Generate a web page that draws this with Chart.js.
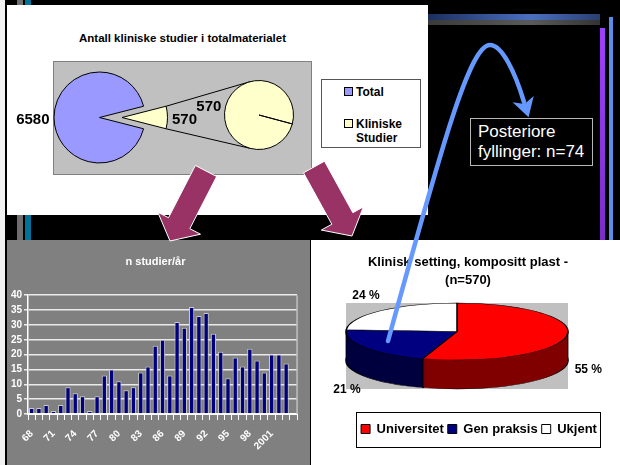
<!DOCTYPE html>
<html>
<head>
<meta charset="utf-8">
<script src="https://cdn.jsdelivr.net/npm/chart.js@4.4.1/dist/chart.umd.min.js"></script>
<style>
  body { margin: 0; width: 620px; height: 465px; background: #000; position: relative; overflow: hidden;
         font-family: "Liberation Sans", Arial, sans-serif; }
  .abs { position: absolute; }
  #p1 { left: 7px; top: 5px; width: 421px; height: 210px; background: #fff; }
  #p2 { left: 7px; top: 240px; width: 303px; height: 225px; background: #808080; }
  #p3 { left: 311px; top: 240px; width: 309px; height: 225px; background: #fff; }
  #t1 { left: 53px; top: 32px; width: 259px; text-align: center; font-weight: bold; font-size: 11.5px; color: #000; }
  #plot1 { left: 53px; top: 61px; width: 259px; height: 114px; background: #C0C0C0; border: 1px solid #808080; box-sizing: border-box; }
  #leg1 { left: 321px; top: 79px; width: 100px; height: 69px; background: #fff; border: 1px solid #555; box-sizing: border-box;
          font-weight: bold; font-size: 12px; line-height: 14px; }
  #leg1 .item { position: absolute; left: 34px; width: 62px; }
  #leg1 .sq { position: absolute; left: -12px; top: 2px; width: 9px; height: 9px; border: 1px solid #000; box-sizing: border-box; }
  #note { left: 470px; top: 118px; width: 123px; height: 48px; border: 1px solid #b8b8b8; box-sizing: border-box;
          color: #fff; font-size: 17px; line-height: 20px; padding: 3px 0 0 7px; white-space: nowrap; }
  canvas { position: absolute; }
</style>
</head>
<body>
<div class="abs" style="left:0;top:0;width:5px;height:465px;background:#f2f2f2"></div>
<div class="abs" style="left:17px;top:0;width:6px;height:465px;background:#6e6e6e"></div>
<div class="abs" style="left:25px;top:0;width:6px;height:465px;background:#00729a"></div>
<div class="abs" style="left:428px;top:14px;width:172px;height:6px;background:linear-gradient(90deg,#1c2f5c,#4a6fc0 60%,#2a3f70)"></div>
<div class="abs" style="left:428px;top:20px;width:172px;height:5px;background:linear-gradient(90deg,#3a3a3a,#5a5a5a 60%,#333)"></div>
<div class="abs" style="left:600px;top:28px;width:5px;height:212px;background:linear-gradient(180deg,#a040ff,#7a2cc8)"></div>
<div class="abs" style="left:609px;top:17px;width:4px;height:223px;background:#5b8de8"></div>

<div id="p1" class="abs"></div>
<div id="t1" class="abs">Antall kliniske studier i totalmaterialet</div>
<div id="plot1" class="abs"></div>
<div id="leg1" class="abs"></div>
<canvas id="pieA" width="310" height="135" style="left:10px;top:50px"></canvas>
<canvas id="pieA2" width="310" height="135" style="left:10px;top:50px"></canvas>
<canvas id="pieB" width="310" height="135" style="left:10px;top:50px"></canvas>

<div id="p2" class="abs"><canvas id="bars" width="303" height="225" style="left:0;top:0"></canvas></div>
<div id="p3" class="abs"><canvas id="pie3" width="309" height="225" style="left:0;top:0"></canvas></div>

<div id="note" class="abs">Posteriore<br>fyllinger: n=74</div>
<canvas id="decor" width="620" height="465" style="left:0;top:0;pointer-events:none"></canvas>

<script>
// totalmaterialet
const totalLabels = ['Total', 'Kliniske Studier'];
const totalValues = [6580, 570];
const kliniskeValues = [570];

// n studier per år
const years = ['68', '69', '70', '71', '72', '73', '74', '75', '76', '77', '78', '79', '80', '81', '82', '83',
  '84', '85', '86', '87', '88', '89', '90', '91', '92', '93', '94', '95', '96', '97', '98', '99',
  '2000', '2001', '2002', '2003', '2004'];
const studierPerAar = [2, 2, 3, 1, 3, 9, 7, 6, 1, 6, 13, 15, 11, 8, 9, 14,
  16, 23, 25, 13, 31, 29, 36, 33, 34, 27, 21, 12, 19, 16, 22, 18,
  14, 20, 20, 17, null];
const shownYears = ['68', '71', '74', '77', '80', '83', '86', '89', '92', '95', '98', '2001'];

// klinisk setting
const settingLabels = ['Universitet', 'Gen praksis', 'Ukjent'];
const settingPercent = [55, 21, 24];

const pie1Colors = ['#9999FF', '#FFFFCC'];
const topColors = ['#FF0000', '#000080', '#FFFFFF'];
const sideColors = ['#800000', '#00003F', '#808080'];

Chart.defaults.font.family = '"Liberation Sans", Arial, sans-serif';
Chart.defaults.animation = false;
Chart.defaults.responsive = false;
Chart.defaults.plugins.tooltip.enabled = false;

// html legend for the first chart
const leg1 = document.getElementById('leg1');
totalLabels.forEach((lab, i) => {
  const it = document.createElement('div');
  it.className = 'item';
  it.style.top = (i === 0 ? 5 : 37) + 'px';
  it.innerHTML = '<span class="sq" style="background:' + pie1Colors[i] + '"></span>' + lab;
  leg1.appendChild(it);
});

function sliceLabels(indexes) {
  return {
    id: 'sliceLabels',
    afterDatasetsDraw(chart) {
      const ctx = chart.ctx;
      const meta = chart.getDatasetMeta(0);
      const data = chart.data.datasets[0].data;
      ctx.save();
      ctx.font = 'bold 15px "Liberation Sans", Arial, sans-serif';
      ctx.fillStyle = '#000';
      ctx.textBaseline = 'middle';
      indexes.forEach(i => {
        const arc = meta.data[i];
        const mid = (arc.startAngle + arc.endAngle) / 2;
        const r = arc.outerRadius + 4.5;
        const c = Math.cos(mid);
        ctx.textAlign = c < -0.1 ? 'right' : (c > 0.1 ? 'left' : 'center');
        ctx.fillText(String(data[i]), arc.x + c * r, arc.y + Math.sin(mid) * r + 2);
      });
      ctx.restore();
    }
  };
}

function pieConfig(values, colors, borders, rotation, padding, plugins) {
  return {
    type: 'pie',
    data: {
      labels: totalLabels.slice(0, values.length),
      datasets: [{
        data: values,
        backgroundColor: colors,
        borderColor: '#000',
        borderWidth: borders
      }]
    },
    options: {
      rotation: rotation,
      layout: { padding: padding },
      plugins: { legend: { display: false }, title: { display: false } }
    },
    plugins: plugins
  };
}

// first pie with the small slice pulled out as its own copy
const explode = 22.5;
const totalSum = totalValues.reduce((a, b) => a + b, 0);
const smallDeg = totalValues[1] / totalSum * 360;
const pie1Rotation = 90 - 360 + smallDeg / 2;
const midRad = (pie1Rotation - 90 + 360 - smallDeg / 2) * Math.PI / 180;
const shiftX = explode * Math.cos(midRad);
const shiftY = explode * Math.sin(midRad);
const padA = { left: 43.5, right: 174.5, top: 21.5, bottom: 21.5 };

const chartA = new Chart(document.getElementById('pieA'),
  pieConfig(totalValues, [pie1Colors[0], 'rgba(0,0,0,0)'], [1, 0], pie1Rotation, padA, [sliceLabels([0])]));

const chartA2 = new Chart(document.getElementById('pieA2'),
  pieConfig(totalValues, ['rgba(0,0,0,0)', pie1Colors[1]], [0, 1], pie1Rotation,
    { left: padA.left + shiftX, right: padA.right - shiftX, top: padA.top + shiftY, bottom: padA.bottom - shiftY },
    [sliceLabels([1])]));

const connectors = {
  id: 'connectors',
  beforeDatasetsDraw(chart) {
    const small = chartA2.getDatasetMeta(0).data[1];
    const big = chart.getDatasetMeta(0).data[0];
    const ctx = chart.ctx;
    const a = 105 * Math.PI / 180;
    ctx.save();
    ctx.strokeStyle = '#000';
    ctx.lineWidth = 1;
    ctx.beginPath();
    ctx.moveTo(small.x + small.outerRadius * Math.cos(small.startAngle), small.y + small.outerRadius * Math.sin(small.startAngle));
    ctx.lineTo(big.x + big.outerRadius * Math.cos(-a), big.y + big.outerRadius * Math.sin(-a));
    ctx.moveTo(small.x + small.outerRadius * Math.cos(small.endAngle), small.y + small.outerRadius * Math.sin(small.endAngle));
    ctx.lineTo(big.x + big.outerRadius * Math.cos(a), big.y + big.outerRadius * Math.sin(a));
    ctx.stroke();
    ctx.restore();
  }
};

const chartB = new Chart(document.getElementById('pieB'),
  pieConfig(kliniskeValues, [pie1Colors[1]], 1, 105, { left: 214, right: 26, top: 30, bottom: 35 },
    [connectors, sliceLabels([0])]));

// bar chart
const tickFont = { family: '"Liberation Sans", Arial, sans-serif', size: 10, weight: 'bold' };
const plotEdge = {
  id: 'plotEdge',
  beforeDatasetsDraw(chart) {
    const { ctx, chartArea: a } = chart;
    ctx.save();
    ctx.strokeStyle = '#C0C0C0';
    ctx.lineWidth = 1.5;
    ctx.beginPath();
    ctx.moveTo(a.right, a.top);
    ctx.lineTo(a.right, a.bottom);
    ctx.stroke();
    ctx.restore();
  }
};

new Chart(document.getElementById('bars'), {
  type: 'bar',
  data: {
    labels: years,
    datasets: [{
      data: studierPerAar,
      backgroundColor: '#000080',
      borderColor: '#C8C8C8',
      borderWidth: 1,
      barPercentage: 0.72,
      categoryPercentage: 1
    }]
  },
  options: {
    layout: { padding: { left: 0, right: 6, top: 0, bottom: 0 } },
    scales: {
      x: {
        grid: { drawOnChartArea: false, color: '#fff', tickLength: 6, offset: true },
        border: { color: '#fff', width: 2 },
        ticks: {
          color: '#fff', font: tickFont, autoSkip: false, minRotation: 45, maxRotation: 45, padding: 8,
          callback(value) {
            const l = this.getLabelForValue(value);
            return shownYears.includes(l) ? l : '';
          }
        },
        afterFit(scale) { scale.height = 51; }
      },
      y: {
        min: 0, max: 40,
        ticks: { stepSize: 5, autoSkip: false, color: '#fff', font: tickFont, padding: 2 },
        grid: { color: '#EAEAEA', lineWidth: 1.5, tickLength: 4 },
        border: { color: '#fff', width: 1.5 },
        afterFit(scale) { scale.width = 21; }
      }
    },
    plugins: {
      legend: { display: false },
      title: {
        display: true, text: 'n studier/år', color: '#fff',
        font: { size: 11, weight: 'bold' },
        padding: { top: 15.5, bottom: 26.5 }
      }
    }
  },
  plugins: [plotEdge]
});

// 3d pie
const pie3d = {
  id: 'pie3d',
  afterLayout(chart, args, opts) {
    chart.titleBlock.left += opts.titleShift;
    chart.titleBlock.right += opts.titleShift;
    chart.legend.left += opts.legendShift;
    chart.legend.right += opts.legendShift;
  },
  geometry(chart, opts) {
    const a = chart.chartArea;
    const arcs = chart.getDatasetMeta(0).data;
    const rx = opts.plotWidth / 2;
    return { a, arcs, rx, ry: opts.tilt, depth: opts.depth, cx: a.left + rx, cy: a.top + opts.tilt };
  },
  beforeDatasetsDraw(chart, args, opts) {
    const ctx = chart.ctx;
    const { a, arcs, rx, ry, depth, cx, cy } = this.geometry(chart, opts);
    const R = arcs[0].outerRadius;
    ctx.save();
    ctx.fillStyle = '#C0C0C0';
    ctx.fillRect(a.left, a.top, 2 * rx, 2 * ry + depth);
    ctx.restore();
    const place = (dy) => {
      ctx.translate(cx, cy + dy);
      ctx.scale(rx / R, ry / R);
      ctx.translate(-arcs[0].x, -arcs[0].y);
    };
    for (let d = depth; d >= 1; d--) {
      ctx.save();
      place(d);
      arcs.forEach((arc, i) => {
        const saved = arc.options;
        arc.options = Object.assign({}, saved, {
          backgroundColor: opts.sideColors[i],
          borderWidth: d === depth ? saved.borderWidth : 0
        });
        arc.draw(ctx);
        arc.options = saved;
      });
      ctx.restore();
    }
    // vertical edges of the visible side
    ctx.save();
    ctx.strokeStyle = '#000';
    ctx.lineWidth = 0.8;
    ctx.beginPath();
    [Math.PI, 0].concat(arcs.map(arc => arc.startAngle)).forEach(ang => {
      if (Math.sin(ang) >= -1e-6) {
        const x = cx + rx * Math.cos(ang), y = cy + ry * Math.sin(ang);
        ctx.moveTo(x, y);
        ctx.lineTo(x, y + depth);
      }
    });
    ctx.stroke();
    ctx.restore();
    ctx.save();
    place(0);
  },
  afterDatasetsDraw(chart, args, opts) {
    const ctx = chart.ctx;
    ctx.restore();
    const { arcs, rx, ry, depth, cx, cy } = this.geometry(chart, opts);
    const data = chart.data.datasets[0].data;
    ctx.save();
    ctx.font = 'bold 12px "Liberation Sans", Arial, sans-serif';
    ctx.fillStyle = '#000';
    ctx.textAlign = 'center';
    ctx.textBaseline = 'middle';
    arcs.forEach((arc, i) => {
      const mid = (arc.startAngle + arc.endAngle) / 2;
      const c = Math.cos(mid), s = Math.sin(mid);
      const ex = cx + rx * c, ey = cy + ry * s + (s > 0 ? depth : 0);
      ctx.fillText(data[i] + ' %', ex + c * 22, ey + s * 22 + 1);
    });
    ctx.restore();
  },
  afterDraw(chart) {
    const { ctx, legend } = chart;
    const pad = legend.options.labels.padding;
    const start = (legend.left + pad + legend.right - legend.lineWidths[0]) / 2;
    const end = start + legend.lineWidths[0] - pad;
    const my = legend.top + pad + 6.5;
    ctx.save();
    ctx.strokeStyle = '#000';
    ctx.lineWidth = 1;
    ctx.strokeRect(Math.round(start - 5) + 0.5, Math.round(my - 17.5) + 0.5, Math.round(end - start + 8), 35);
    ctx.restore();
  }
};

new Chart(document.getElementById('pie3'), {
  type: 'pie',
  data: {
    labels: settingLabels,
    datasets: [{
      data: settingPercent,
      backgroundColor: topColors,
      borderColor: '#000',
      borderWidth: 0.8
    }]
  },
  options: {
    rotation: 0,
    layout: { padding: { left: 35, right: 0, top: 0, bottom: 19.5 } },
    plugins: {
      title: {
        display: true,
        text: ['Klinisk setting, kompositt plast -', '(n=570)'],
        color: '#000',
        font: { size: 13, weight: 'bold', lineHeight: 18 / 13 },
        padding: { top: 13, bottom: 14 }
      },
      legend: {
        position: 'bottom',
        labels: {
          color: '#000', boxWidth: 9, boxHeight: 9, padding: 4,
          font: { size: 13, weight: 'bold' },
          generateLabels(chart) {
            const items = Chart.overrides.pie.plugins.legend.labels.generateLabels(chart);
            items.forEach(it => { it.lineWidth = 1; it.strokeStyle = '#000'; });
            return items;
          }
        }
      },
      pie3d: { plotWidth: 222, tilt: 28.5, depth: 29, sideColors: sideColors, titleShift: -15, legendShift: -4 }
    }
  },
  plugins: [pie3d]
});

// slide decorations: block arrows and the curved pointer
const dc = document.getElementById('decor').getContext('2d');
function blockArrow(tx, ty, px, py) {
  const len = Math.hypot(px - tx, py - ty);
  const ux = (px - tx) / len, uy = (py - ty) / len, nx = -uy, ny = ux;
  const w = 12, hw = 24, hl = 20;
  const bx = px - ux * hl, by = py - uy * hl;
  dc.beginPath();
  dc.moveTo(tx + nx * w, ty + ny * w);
  dc.lineTo(bx + nx * w, by + ny * w);
  dc.lineTo(bx + nx * hw, by + ny * hw);
  dc.lineTo(px, py);
  dc.lineTo(bx - nx * hw, by - ny * hw);
  dc.lineTo(bx - nx * w, by - ny * w);
  dc.lineTo(tx - nx * w, ty - ny * w);
  dc.closePath();
  dc.fillStyle = '#993366';
  dc.fill();
  dc.strokeStyle = '#fff';
  dc.lineWidth = 1;
  dc.stroke();
}
blockArrow(206, 171, 170, 241);
blockArrow(314, 167, 352, 236);

dc.strokeStyle = '#6699FF';
dc.lineWidth = 4.5;
dc.lineCap = 'round';
dc.beginPath();
dc.moveTo(388, 341);
dc.bezierCurveTo(443, 141, 470, 45, 490, 45);
dc.bezierCurveTo(502, 45, 515, 72, 524, 102);
dc.stroke();
const hx = 0.287, hy = 0.958;
dc.fillStyle = '#6699FF';
dc.beginPath();
dc.moveTo(524 + hx * 16, 102 + hy * 16);
dc.lineTo(524 - hy * 11 - hx * 3, 102 + hx * 11 - hy * 3);
dc.lineTo(524 + hx * 2, 102 + hy * 2);
dc.lineTo(524 + hy * 11 - hx * 3, 102 - hx * 11 - hy * 3);
dc.closePath();
dc.fill();
</script>
</body>
</html>
